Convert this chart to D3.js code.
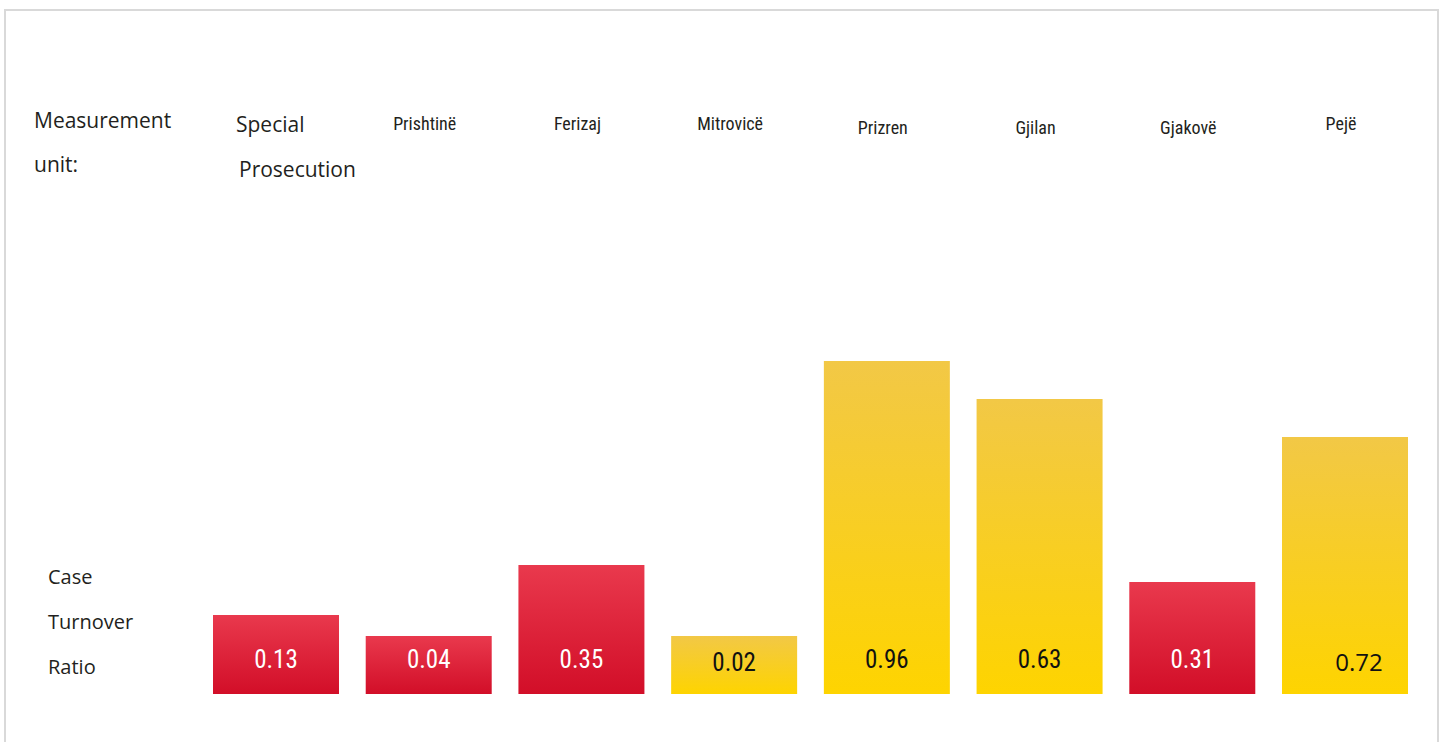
<!DOCTYPE html>
<html>
<head>
<meta charset="utf-8">
<script src="https://cdn.jsdelivr.net/npm/d3@7"></script>
<style>
  html, body { margin: 0; padding: 0; background: #fff; }
  svg { display: block; }
</style>
</head>
<body>
<svg id="chart" width="1446" height="742"></svg>
<script>
// ---- data ----
const categories = ["Special Prosecution", "Prishtinë", "Ferizaj", "Mitrovicë", "Prizren", "Gjilan", "Gjakovë", "Pejë"];
const ratioValues = [0.13, 0.04, 0.35, 0.02, 0.96, 0.63, 0.31, 0.72];
// apparent bar length as drawn in the reference (arbitrary units, not proportional to the ratio)
const barLength = [79, 58, 129, 58, 333, 295, 112, 257];
const colorGroup = ["red", "red", "red", "yellow", "yellow", "yellow", "red", "yellow"];
const rowLabelTop = ["Measurement", "unit:"];
const rowLabelBottom = ["Case", "Turnover", "Ratio"];

const svg = d3.select("#chart");

// frame
svg.append("rect").attr("x", 5).attr("y", 10).attr("width", 1433).attr("height", 760)
  .attr("fill", "#fff").attr("stroke", "#d9d9d9").attr("stroke-width", 2);

// gradients
const defs = svg.append("defs");
const grads = { red: ["#e9394d", "#d20e28"], yellow: ["#f2c846", "#fed400"] };
Object.entries(grads).forEach(([k, c]) => {
  const g = defs.append("linearGradient").attr("id", "g-" + k)
    .attr("x1", 0).attr("y1", 0).attr("x2", 0).attr("y2", 1);
  g.append("stop").attr("offset", "0%").attr("stop-color", c[0]);
  g.append("stop").attr("offset", "100%").attr("stop-color", c[1]);
});

const x = d3.scaleBand().domain(categories).range([213, 1408]).paddingInner(0.175).paddingOuter(0);
const baseY = 694;
const y = d3.scaleLinear().domain([0, 333]).range([baseY, baseY - 333]);

const data = categories.map((c, i) => ({ c, v: ratioValues[i], h: barLength[i], g: colorGroup[i] }));

svg.selectAll("rect.bar").data(data).join("rect").attr("class", "bar")
  .attr("x", d => x(d.c)).attr("width", x.bandwidth())
  .attr("y", d => y(d.h)).attr("height", d => y(0) - y(d.h))
  .attr("fill", d => "url(#g-" + d.g + ")");

const condensed = "'Liberation Sans Narrow', 'Arial Narrow', 'Roboto Condensed', sans-serif";
const regular = "'Open Sans', 'Noto Sans', sans-serif";

// value labels
svg.selectAll("text.val").data(data).join("text").attr("class", "val")
  .attr("x", d => x(d.c) + x.bandwidth() / 2)
  .attr("y", d => (d.c === "Pejë" || d.c === "Mitrovicë") ? 671 : 668)
  .attr("text-anchor", "middle")
  .attr("font-family", d => d.c === "Pejë" ? regular : condensed)
  .attr("font-size", d => d.c === "Pejë" ? 24 : 25)
  .attr("fill", d => d.g === "red" ? "#ffffff" : "#111111")
  .attr("dx", d => d.c === "Pejë" ? 14 : 0)
  .text(d => d.v.toFixed(2));

// category labels
const catG = svg.append("g");
const lowered = ["Prizren", "Gjilan", "Gjakovë"];
data.forEach((d, i) => {
  const cx = x(d.c) + x.bandwidth() / 2;
  if (i === 0) {
    const parts = d.c.split(" ");
    catG.append("text").attr("x", 236).attr("y", 132).attr("font-family", regular)
      .attr("font-size", 21).attr("fill", "#231f20").text(parts[0]);
    catG.append("text").attr("x", 239).attr("y", 177).attr("font-family", regular)
      .attr("font-size", 21).attr("fill", "#231f20").text(parts[1]);
  } else {
    catG.append("text").attr("x", cx - 4).attr("y", lowered.includes(d.c) ? 134 : 130)
      .attr("text-anchor", "middle")
      .attr("font-family", condensed).attr("font-size", 18).attr("fill", "#231f20").text(d.c);
  }
});

// row labels
rowLabelTop.forEach((t, i) => {
  svg.append("text").attr("x", 34).attr("y", 128 + i * 44).attr("font-family", regular)
    .attr("font-size", 21).attr("fill", "#231f20").text(t);
});
rowLabelBottom.forEach((t, i) => {
  svg.append("text").attr("x", 48).attr("y", 584 + i * 45).attr("font-family", regular)
    .attr("font-size", 20).attr("fill", "#231f20").text(t);
});
</script>
</body>
</html>
